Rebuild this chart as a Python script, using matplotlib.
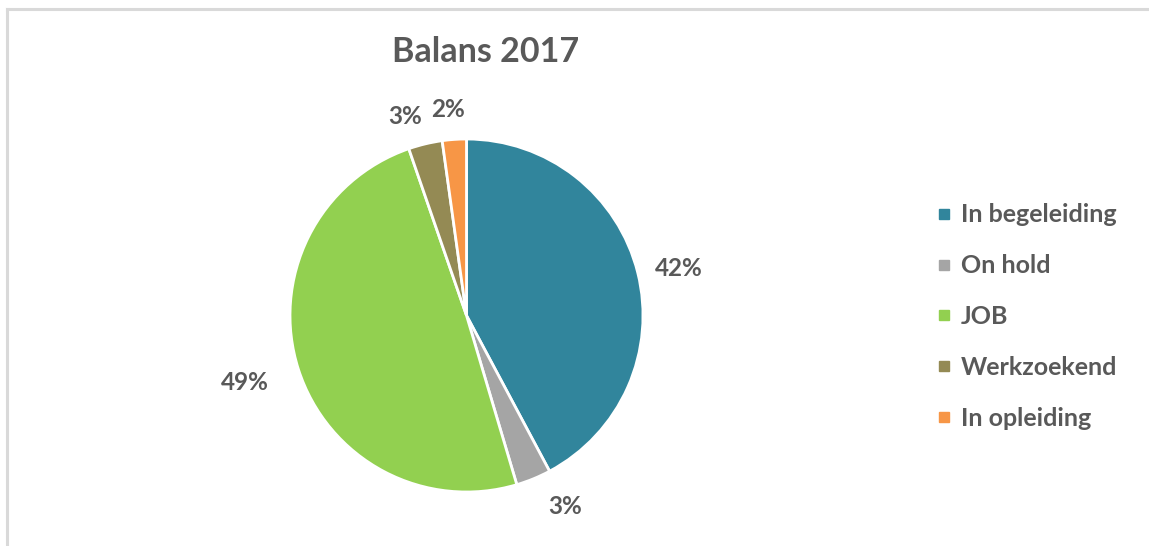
import numpy as np
import matplotlib.pyplot as plt
from matplotlib.lines import Line2D

# data
categories = ['In begeleiding', 'On hold', 'JOB', 'Werkzoekend', 'In opleiding']
shares = [42.2, 3.2, 49.3, 3.1, 2.2]
pct_labels = ['42%', '3%', '49%', '3%', '2%']
colors = ['#31859C', '#A5A5A5', '#92D050', '#948A54', '#F79646']

text_color = '#595959'
plt.rcParams['font.family'] = ['Lato', 'DejaVu Sans']

W, H = 1149, 546
fig = plt.figure(figsize=(W / 100, H / 100), dpi=100)

# pie centre and radius in pixels
cx, cy, r = 466.5, 315.5, 176.5
ax = fig.add_axes([(cx - r) / W, (H - cy - r) / H, 2 * r / W, 2 * r / H])

wedges, _ = ax.pie(shares, colors=colors, startangle=90, counterclock=False,
                   radius=1.0, wedgeprops=dict(edgecolor='white', linewidth=2))
ax.set_xlim(-1, 1)
ax.set_ylim(-1, 1)
ax.set_aspect('auto')
ax.axis('off')

# percentage labels outside the wedges ("best fit" style placement)
dists = [1.23, 1.22, 1.31, 1.18, 1.17]
nudges = [-1.5, 5.0, -1.0, 3.7, 1.2]   # degrees, counter-clockwise
for w, lab, d, n in zip(wedges, pct_labels, dists, nudges):
    ang = np.deg2rad((w.theta1 + w.theta2) / 2 + n)
    ax.text(d * np.cos(ang), d * np.sin(ang), lab, ha='center', va='center',
            fontsize=17.5, fontweight='bold', color=text_color, clip_on=False)

fig.text(486 / W, 1 - 52 / H, 'Balans 2017', ha='center', va='center',
         fontsize=24.5, fontweight='bold', color=text_color)

handles = [Line2D([], [], marker='s', linestyle='none', markersize=7.5,
                  markerfacecolor=c, markeredgecolor=c) for c in colors]
leg = fig.legend(handles, categories, loc='center left',
                 bbox_to_anchor=(936.5 / W, 1 - 316.5 / H), frameon=False,
                 borderaxespad=0, borderpad=0,
                 handlelength=0.6, handletextpad=0.38, labelspacing=1.11,
                 prop=dict(size=18, weight='bold'))
for t in leg.get_texts():
    t.set_color(text_color)

# chart frame (top and left edges visible)
frame = dict(color='#D9D9D9', linewidth=2.2)
fig.add_artist(Line2D([7 / W, 1], [1 - 8.5 / H, 1 - 8.5 / H], **frame))
fig.add_artist(Line2D([7 / W, 7 / W], [0, 1 - 8.5 / H], **frame))

fig.savefig('out.png', dpi=100, facecolor='white')
